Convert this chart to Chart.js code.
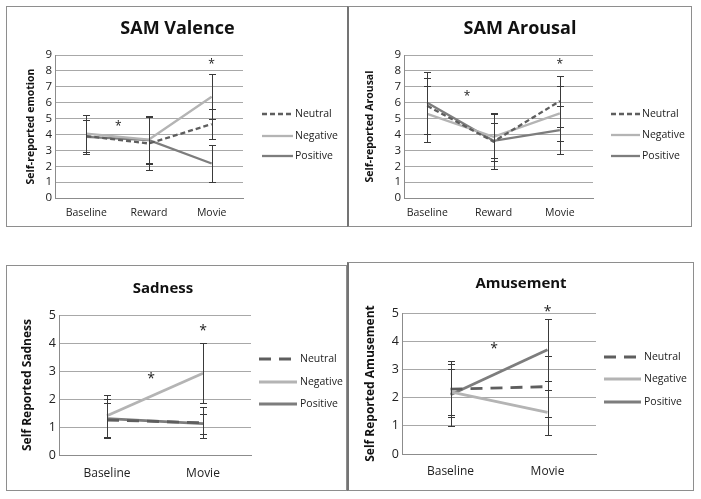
<!DOCTYPE html>
<html>
<head>
<meta charset="utf-8">
<script src="https://cdn.jsdelivr.net/npm/chart.js@4.4.1/dist/chart.umd.min.js"></script>
<style>
  body { margin: 0; background: #fff; width: 701px; height: 499px; position: relative; overflow: hidden; }
  .frame { position: absolute; box-sizing: border-box; border: 1px solid #8e8e8e; }
  .frame.right { border-left: 2px solid #747474; }
  canvas { position: absolute; }
</style>
</head>
<body>
<div class="frame" style="left:6px;top:6px;width:342px;height:221px"></div>
<div class="frame right" style="left:347px;top:6px;width:345px;height:221px"></div>
<div class="frame" style="left:6px;top:265px;width:341px;height:226px"></div>
<div class="frame right" style="left:347px;top:262px;width:347px;height:229px"></div>

<canvas id="valence" style="left:8px;top:8px" width="339" height="217"></canvas>
<canvas id="arousal" style="left:350px;top:8px" width="340" height="217"></canvas>
<canvas id="sadness" style="left:8px;top:266px" width="338" height="223"></canvas>
<canvas id="amusement" style="left:350px;top:263px" width="342" height="226"></canvas>

<script>
// ---- data ----
const sessions3 = ['Baseline', 'Reward', 'Movie'];
const sessions2 = ['Baseline', 'Movie'];
const groups = ['Neutral', 'Negative', 'Positive'];

// SAM Valence (0-9)
const valenceNeutral = [3.9, 3.43, 4.65];
const valenceNegative = [4.05, 3.68, 6.37];
const valencePositive = [3.85, 3.64, 2.17];
const valenceNeutralErr = [1.0, 1.65, 0.95];
const valenceNegativeErr = [1.15, 1.5, 1.42];
const valencePositiveErr = [1.05, 1.5, 1.16];
const valenceStars = [[0.51, 4.7], [2, 8.6]];

// SAM Arousal (0-9)
const arousalNeutral = [5.8, 3.55, 6.1];
const arousalNegative = [5.3, 3.85, 5.33];
const arousalPositive = [6.0, 3.6, 4.27];
const arousalNeutralErr = [1.75, 1.75, 1.6];
const arousalNegativeErr = [1.77, 1.5, 1.72];
const arousalPositiveErr = [1.95, 1.1, 1.53];
const arousalStars = [[0.6, 6.6], [2, 8.6]];

// Sadness (0-5)
const sadnessNeutral = [1.25, 1.15];
const sadnessNegative = [1.4, 2.92];
const sadnessPositive = [1.3, 1.12];
const sadnessNeutralErr = [0.6, 0.55];
const sadnessNegativeErr = [0.75, 1.08];
const sadnessPositiveErr = [0.7, 0.36];
const sadnessStars = [[0.46, 2.84], [1, 4.56]];

// Amusement (0-5)
const amusementNeutral = [2.3, 2.39];
const amusementNegative = [2.2, 1.48];
const amusementPositive = [2.1, 3.7];
const amusementNeutralErr = [1.0, 1.07];
const amusementNegativeErr = [0.8, 0.8];
const amusementPositiveErr = [1.1, 1.1];
const amusementStars = [[0.45, 3.85], [1, 5.18]];

const FONT = '"Open Sans", "Noto Sans", sans-serif';
const colors = { Neutral: '#5e5e5e', Negative: '#b4b4b4', Positive: '#7d7d7d' };

// error bars drawn from each dataset's errors array
const errorBars = {
  id: 'errorBars',
  afterDatasetsDraw(chart) {
    const { ctx, scales: { x, y } } = chart;
    ctx.save();
    ctx.strokeStyle = '#3a3a3a';
    ctx.lineWidth = 1;
    chart.data.datasets.forEach(ds => {
      (ds.errors || []).forEach((e, i) => {
        const pt = ds.data[i];
        const px = Math.round(x.getPixelForValue(pt.x)) + 0.5;
        const top = Math.round(y.getPixelForValue(pt.y + e)) + 0.5;
        const bot = Math.round(y.getPixelForValue(pt.y - e)) + 0.5;
        ctx.beginPath();
        ctx.moveTo(px, top); ctx.lineTo(px, bot);
        ctx.moveTo(px - 3.5, top); ctx.lineTo(px + 3.5, top);
        ctx.moveTo(px - 3.5, bot); ctx.lineTo(px + 3.5, bot);
        ctx.stroke();
      });
    });
    ctx.restore();
  }
};

// significance asterisks
const stars = {
  id: 'stars',
  afterDraw(chart, args, opts) {
    const { ctx, scales: { x, y } } = chart;
    ctx.save();
    ctx.fillStyle = '#222';
    ctx.font = `${opts.size}px ${FONT}`;
    ctx.textAlign = 'center';
    ctx.textBaseline = 'alphabetic';
    (opts.points || []).forEach(([sx, sy]) => {
      ctx.fillText('*', x.getPixelForValue(sx), y.getPixelForValue(sy) + opts.size * 0.56);
    });
    ctx.restore();
  }
};

// legend at the right, drawn from the datasets
const sideLegend = {
  id: 'sideLegend',
  afterDraw(chart, args, opts) {
    const { ctx, chartArea } = chart;
    ctx.save();
    ctx.font = `${opts.size}px ${FONT}`;
    ctx.textBaseline = 'middle';
    ctx.fillStyle = '#222';
    chart.data.datasets.forEach((ds, i) => {
      const yy = chartArea.top + opts.rows[i];
      ctx.beginPath();
      ctx.strokeStyle = ds.borderColor;
      ctx.lineWidth = ds.borderWidth;
      ctx.setLineDash(ds.borderDash || []);
      ctx.moveTo(chartArea.right + opts.line[0], yy);
      ctx.lineTo(chartArea.right + opts.line[1], yy);
      ctx.stroke();
      ctx.setLineDash([]);
      ctx.fillText(ds.label, chartArea.right + opts.textX, yy);
    });
    ctx.restore();
  }
};

function series(label, values, errs, lw, dash) {
  return {
    label,
    data: values.map((v, i) => ({ x: i, y: v })),
    errors: errs,
    borderColor: colors[label],
    borderWidth: lw,
    borderDash: dash,
    pointRadius: 0,
    tension: 0,
    yAxisID: 'y'
  };
}

function panel(id, p) {
  new Chart(document.getElementById(id), {
    type: 'line',
    data: {
      datasets: [
        series(groups[0], p.neutral, p.neutralErr, p.lw, p.dash),
        series(groups[1], p.negative, p.negativeErr, p.lw, []),
        series(groups[2], p.positive, p.positiveErr, p.lw, [])
      ]
    },
    options: {
      responsive: false,
      animation: false,
      events: [],
      layout: { padding: { left: 0, right: p.padRight, top: 0, bottom: 0 } },
      scales: {
        x: {
          type: 'linear',
          min: p.xMin,
          max: p.xMax,
          afterBuildTicks: s => { s.ticks = p.cats.map((c, i) => ({ value: i })); },
          afterFit: s => { s.height = p.xHeight; },
          grid: { display: false, drawTicks: false },
          border: { display: true, color: '#8c8c8c' },
          ticks: {
            autoSkip: false,
            callback: v => p.cats[v],
            color: '#222',
            padding: p.xPad,
            maxRotation: 0,
            font: { family: FONT, size: p.xFont }
          }
        },
        y: {
          min: 0,
          max: p.yMax,
          afterFit: s => { s.width = p.yWidth; },
          grid: { color: '#a8a8a8', drawTicks: false },
          border: { display: true, color: '#8c8c8c' },
          ticks: { stepSize: 1, autoSkip: false, color: '#222', padding: 3, font: { family: FONT, size: p.yFont } },
          title: {
            display: true,
            text: p.yTitle,
            color: '#111',
            padding: { top: p.yTitlePad, bottom: 0 },
            font: { family: FONT, size: p.yTitleFont, weight: 'bold' }
          }
        },
        spacer: {
          axis: 'y',
          type: 'linear',
          position: 'right',
          afterFit: s => { s.width = p.spacer; },
          grid: { display: false, drawOnChartArea: false },
          border: { display: false },
          ticks: { display: false }
        }
      },
      plugins: {
        legend: { display: false },
        tooltip: { enabled: false },
        title: {
          display: true,
          text: p.title,
          color: '#111',
          padding: { top: p.titleTop, bottom: p.titleBottom },
          font: { family: FONT, size: p.titleFont, weight: 'bold', lineHeight: 1.2 }
        },
        stars: { points: p.stars, size: p.starSize },
        sideLegend: p.legend
      }
    },
    plugins: [errorBars, stars, sideLegend]
  });
}

function draw() {
  panel('valence', {
    title: 'SAM Valence', cats: sessions3, xMin: -0.5, xMax: 2.5, yMax: 9,
    neutral: valenceNeutral, negative: valenceNegative, positive: valencePositive,
    neutralErr: valenceNeutralErr, negativeErr: valenceNegativeErr, positiveErr: valencePositiveErr,
    stars: valenceStars, starSize: 12,
    lw: 2.3, dash: [5, 3],
    yTitle: 'Self-reported emotion', yTitleFont: 10.5, yTitlePad: 16.7,
    yWidth: 47, yFont: 11.5, xFont: 10.5, xPad: 8.7, xHeight: 27,
    padRight: 0, spacer: 104,
    titleFont: 18, titleTop: 10.2, titleBottom: 15.2,
    legend: { line: [19, 50], textX: 52, rows: [59, 81, 101], size: 10.5 }
  });
  panel('arousal', {
    title: 'SAM Arousal', cats: sessions3, xMin: -0.35, xMax: 2.5, yMax: 9,
    neutral: arousalNeutral, negative: arousalNegative, positive: arousalPositive,
    neutralErr: arousalNeutralErr, negativeErr: arousalNegativeErr, positiveErr: arousalPositiveErr,
    stars: arousalStars, starSize: 12,
    lw: 2.3, dash: [5, 3],
    yTitle: 'Self-reported Arousal', yTitleFont: 10.5, yTitlePad: 13.7,
    yWidth: 54, yFont: 11.5, xFont: 10.5, xPad: 8.7, xHeight: 27,
    padRight: 0, spacer: 97,
    titleFont: 18, titleTop: 10.2, titleBottom: 15.2,
    legend: { line: [18, 47], textX: 49, rows: [59, 80, 101], size: 10.5 }
  });
  panel('sadness', {
    title: 'Sadness', cats: sessions2, xMin: -0.5, xMax: 1.5, yMax: 5,
    neutral: sadnessNeutral, negative: sadnessNegative, positive: sadnessPositive,
    neutralErr: sadnessNeutralErr, negativeErr: sadnessNegativeErr, positiveErr: sadnessPositiveErr,
    stars: sadnessStars, starSize: 14,
    lw: 2.8, dash: [12, 8],
    yTitle: 'Self Reported Sadness', yTitleFont: 12, yTitlePad: 12.3,
    yWidth: 51, yFont: 12.5, xFont: 12, xPad: 11.8, xHeight: 34,
    padRight: 28, spacer: 67,
    titleFont: 15, titleTop: 14, titleBottom: 17,
    legend: { line: [8, 46], textX: 49, rows: [44, 67, 89], size: 10.5 }
  });
  panel('amusement', {
    title: 'Amusement', cats: sessions2, xMin: -0.5, xMax: 1.5, yMax: 5,
    neutral: amusementNeutral, negative: amusementNegative, positive: amusementPositive,
    neutralErr: amusementNeutralErr, negativeErr: amusementNegativeErr, positiveErr: amusementPositiveErr,
    stars: amusementStars, starSize: 14,
    lw: 2.8, dash: [12, 8],
    yTitle: 'Self Reported Amusement', yTitleFont: 12, yTitlePad: 13.5,
    yWidth: 52, yFont: 12.5, xFont: 12, xPad: 10.8, xHeight: 35,
    padRight: 0, spacer: 96,
    titleFont: 15, titleTop: 12, titleBottom: 20,
    legend: { line: [8, 45], textX: 48, rows: [44, 66, 89], size: 10.5 }
  });
}

Promise.all([
  document.fonts.load('bold 18px "Open Sans"'),
  document.fonts.load('12px "Open Sans"')
]).then(draw, draw);
</script>
</body>
</html>
